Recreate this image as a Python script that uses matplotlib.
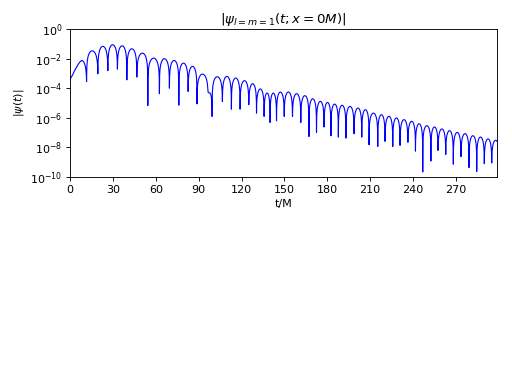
import numpy as np
import matplotlib
matplotlib.use('Agg')
import matplotlib.pyplot as plt
from matplotlib.ticker import MultipleLocator

# initial rise of the signal (t/M, log10|psi|)
rise_t = [0.0, 1.8, 3.0, 4.3, 5.5, 6.6, 7.8]
rise_v = [-3.38, -3.08, -2.82, -2.60, -2.40, -2.25, -2.12]

# zeros of psi (the sharp dips) and how deep they go on the plot
dip_t = [11.5, 19.4, 26.4, 33.1, 39.7, 46.7, 54.4, 62.5, 69.5, 76.1,
         82.6, 88.8, 96.5, 99.4, 106.6, 112.9, 119.0, 125.1, 130.5, 135.8,
         140.0, 144.5, 149.9, 155.7, 161.5, 167.2, 172.5, 177.8, 182.6, 187.8,
         193.1, 198.8, 204.2, 209.3, 215.4, 220.5, 225.9, 231.0, 236.5, 241.8,
         246.9, 252.6, 257.6, 263.0, 268.3, 273.7, 279.3, 284.7, 290.0, 295.2,
         300.6]
dip_v = [-3.54, -3.02, -2.80, -2.70, -3.43, -3.24, -5.16, -4.37, -3.99, -5.14,
         -4.21, -5.05, -4.25, -5.90, -4.89, -5.41, -5.41, -5.11, -5.68, -5.90,
         -6.31, -6.20, -5.90, -5.90, -6.31, -7.26, -6.99, -6.62, -7.21, -7.30,
         -7.37, -7.07, -7.30, -7.82, -7.93, -7.59, -7.93, -7.86, -7.65, -8.25,
         -9.66, -8.92, -8.20, -8.47, -9.13, -8.62, -9.36, -9.62, -9.10, -9.05,
         -9.00]

# peak of each lobe between two consecutive zeros
peak_v = [-1.47, -1.17, -1.06, -1.13, -1.33, -1.62, -1.96, -2.00, -2.12, -2.30,
          -2.52, -3.05, -4.40, -3.22, -3.20, -3.31, -3.49, -3.70, -4.05, -4.33,
          -4.33, -4.26, -4.26, -4.37, -4.50, -4.71, -4.89, -4.96, -5.07, -5.15,
          -5.23, -5.34, -5.45, -5.68, -5.79, -5.90, -6.01, -6.13, -6.24, -6.40,
          -6.53, -6.62, -6.76, -6.87, -6.99, -7.07, -7.21, -7.30, -7.43, -7.53]

t_end = 299.0


def arc(t0, t1, vp, v0, v1, n=80):
    # one lobe of |psi|: sine arc on top of the dip depth at each end
    s = np.linspace(0, 1, n)
    floor = 10 ** ((1 - s) * v0 + s * v1)
    return t0 + s * (t1 - t0), 10 ** vp * np.sin(np.pi * s) + floor


t = list(rise_t)
y = list(10 ** np.array(rise_v))

# falling half of the first lobe
ta, ya = arc(2 * rise_t[-1] - dip_t[0], dip_t[0], rise_v[-1], dip_v[0], dip_v[0])
keep = ta > rise_t[-1]
t += list(ta[keep])
y += list(ya[keep])

for k in range(len(peak_v)):
    ta, ya = arc(dip_t[k], dip_t[k + 1], peak_v[k], dip_v[k], dip_v[k + 1])
    t += list(ta[1:])
    y += list(ya[1:])

t = np.array(t)
y = np.array(y)
keep = t <= t_end

fig = plt.figure(figsize=(6.4, 4.8), dpi=80)
ax = fig.add_axes([0.137, 0.539, 0.834, 0.385])
ax.semilogy(t[keep], y[keep], color='blue', linewidth=1.0)

ax.set_xlim(0, t_end)
ax.set_ylim(1e-10, 1e0)
ax.xaxis.set_major_locator(MultipleLocator(30))
ax.set_yticks([1e0, 1e-2, 1e-4, 1e-6, 1e-8, 1e-10])
ax.minorticks_off()

ax.set_xlabel('t/M')
ax.set_ylabel(r'$|\psi(t)|$')
ax.set_title(r'$|\psi_{l=m=1}(t; x=0M)|$')

plt.savefig('out.png', dpi=80)
